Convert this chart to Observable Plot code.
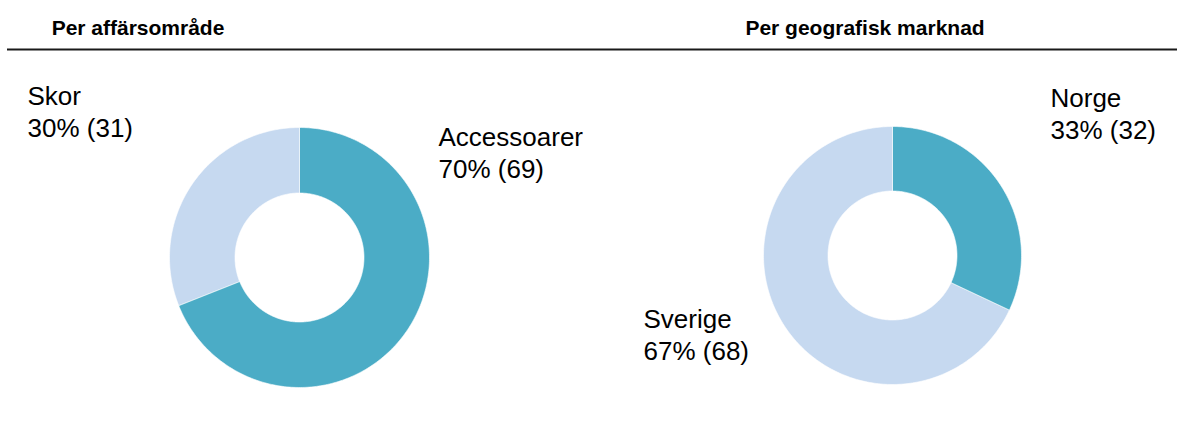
<!DOCTYPE html>
<html>
<head>
<meta charset="utf-8">
<script src="https://cdn.jsdelivr.net/npm/d3@7"></script>
<script src="https://cdn.jsdelivr.net/npm/@observablehq/plot@0.6"></script>
<style>
  html, body { margin: 0; padding: 0; background: #fff; }
  #chart svg { display: block; }
</style>
</head>
<body>
<div id="chart"></div>
<script>
// ---- Data ----
const titles = ["Per affärsområde", "Per geografisk marknad"];

const businessNames  = ["Accessoarer", "Skor"];
const businessValues = [69, 31];
const businessShares = [70, 30];

const marketNames  = ["Norge", "Sverige"];
const marketValues = [32, 68];
const marketShares = [33, 67];

const segmentColors = ["#4BACC6", "#C6D9F0"];

// ---- Layout (pixel frame of the SVG) ----
const W = 1177, H = 446;
const FONT = "Liberation Sans, Arial, Helvetica, sans-serif";
const donutLayout = [
  {cx: 299, cy: 257, rOut: 130, rIn: 64.5, titleX: 137.5,
   labelPos: [{x: 438, y: 177}, {x: 27, y: 136}]},
  {cx: 892, cy: 255, rOut: 129, rIn: 64.5, titleX: 864.5,
   labelPos: [{x: 1050, y: 138}, {x: 643, y: 359}]}
];
const donuts = [
  {names: businessNames, values: businessValues, shares: businessShares},
  {names: marketNames, values: marketValues, shares: marketShares}
];

// Build ring-sector outlines from the values (angles clockwise from 12 o'clock)
const ringRows = [];
const labelRows = [];
donuts.forEach((d, di) => {
  const L = donutLayout[di];
  const total = d3.sum(d.values);
  let cum = 0;
  d.values.forEach((v, i) => {
    const a0 = 2 * Math.PI * cum / total;
    const a1 = 2 * Math.PI * (cum + v) / total;
    cum += v;
    const n = Math.max(8, Math.ceil((a1 - a0) / (Math.PI / 180)));
    const key = `${di}-${i}`;
    const color = segmentColors[i];
    for (let k = 0; k <= n; k++) {
      const a = a0 + (a1 - a0) * k / n;
      ringRows.push({key, color, x: L.cx + L.rOut * Math.sin(a), y: L.cy - L.rOut * Math.cos(a)});
    }
    for (let k = n; k >= 0; k--) {
      const a = a0 + (a1 - a0) * k / n;
      ringRows.push({key, color, x: L.cx + L.rIn * Math.sin(a), y: L.cy - L.rIn * Math.cos(a)});
    }
    labelRows.push({
      text: `${d.names[i]}\n${d.shares[i]}% (${v})`,
      x: L.labelPos[i].x, y: L.labelPos[i].y
    });
  });
});

const titleRows = titles.map((t, i) => ({text: t, x: donutLayout[i].titleX, y: 34}));

const chart = Plot.plot({
  width: W,
  height: H,
  margin: 0,
  x: {domain: [0, W], range: [0, W], axis: null},
  y: {domain: [0, H], range: [0, H], axis: null},
  color: {type: "identity"},
  style: {fontFamily: FONT, background: "#fff", overflow: "visible"},
  marks: [
    Plot.line(ringRows, {
      x: "x", y: "y", z: "key",
      fill: "color", stroke: "white", strokeWidth: 0.6,
      curve: "linear-closed"
    }),
    Plot.ruleY([49], {y: d => d, x1: () => 7, x2: () => W, stroke: "#1a1a1a", strokeWidth: 2}),
    Plot.text(titleRows, {
      x: "x", y: "y", text: "text",
      textAnchor: "middle", lineAnchor: "bottom",
      fontSize: 21, fontWeight: "bold", fill: "#000", fontFamily: FONT
    }),
    Plot.text(labelRows, {
      x: "x", y: "y", text: "text",
      textAnchor: "start", lineAnchor: "bottom", lineHeight: 1.2,
      fontSize: 26, fill: "#000", fontFamily: FONT
    })
  ]
});

document.getElementById("chart").appendChild(chart);
</script>
</body>
</html>
